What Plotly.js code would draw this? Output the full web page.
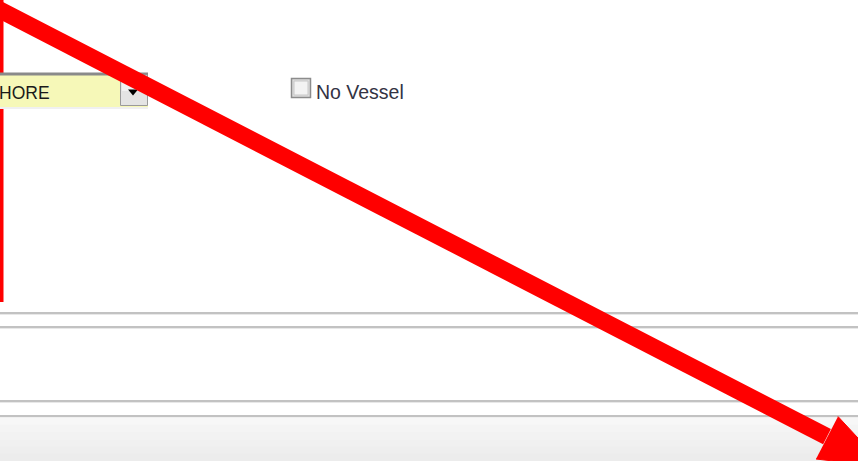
<!DOCTYPE html>
<html>
<head>
<meta charset="utf-8">
<script src="https://cdn.plot.ly/plotly-3.0.1.min.js"></script>
<style>
html,body{margin:0;padding:0;background:#fff;overflow:hidden;}
#chart{width:858px;height:461px;}
</style>
</head>
<body>
<div id="chart"></div>
<script>
// ---- values (pixel space of the screenshot) ----
const shaftX = [-10, 827];
const shaftY = [4.9, 436.6];
const headX = [838.0, 884.8, 816.0];
const headY = [416.5, 467.0, 459.0];
const dropdownText = "HORE";
const checkboxLabel = "No Vessel";
const separatorY = [313, 327, 401, 416];
const footerShades = ["#f7f7f7", "#f4f4f4", "#f2f2f2", "#f0f0f0", "#eeeeee", "#ececec"];

const W = 858, H = 461;
const shapes = [];

// red vertical marker at left edge
shapes.push({type:'rect', layer:'below', x0:0, x1:3.5, y0:0, y1:302, fillcolor:'#ff0000', line:{width:0}});

// dropdown
shapes.push({type:'rect', layer:'below', x0:-2, x1:148, y0:75, y1:107, fillcolor:'#f6f8b8', line:{width:0}});
shapes.push({type:'rect', layer:'below', x0:-2, x1:148, y0:72.5, y1:75.5, fillcolor:'#8a8a8a', line:{width:0}});
shapes.push({type:'rect', layer:'below', x0:-2, x1:148, y0:107, y1:109, fillcolor:'#f0f0f0', line:{width:0}});
shapes.push({type:'rect', layer:'below', x0:120.5, x1:147.5, y0:75, y1:105.5, fillcolor:'#e4e4e4', line:{color:'#9a9a9a', width:1}});
shapes.push({type:'rect', layer:'below', x0:122, x1:146, y0:76.5, y1:91, fillcolor:'#f2f2f2', line:{width:0}});
shapes.push({type:'path', layer:'below', path:'M 128 89.5 L 138 89.5 L 133 95.5 Z', fillcolor:'#000000', line:{width:0}});

// checkbox
shapes.push({type:'rect', layer:'below', x0:291.5, x1:310.5, y0:78.5, y1:97.5, fillcolor:'#dcdcdc', line:{color:'#8c8c8c', width:1.5}});
shapes.push({type:'rect', layer:'below', x0:294, x1:308, y0:81, y1:95, fillcolor:'#f3f3f3', line:{color:'#c8c8c8', width:1}});

// separators
separatorY.forEach(function(y){
  shapes.push({type:'line', layer:'below', x0:0, x1:W, y0:y, y1:y, line:{color:'#c2c2c2', width:2}});
  shapes.push({type:'line', layer:'below', x0:0, x1:W, y0:y+1.5, y1:y+1.5, line:{color:'#e8e8e8', width:1}});
});

// footer band gradient
const fTop = 417.5, fStep = (H - fTop) / footerShades.length;
footerShades.forEach(function(c, i){
  shapes.push({type:'rect', layer:'below', x0:0, x1:W, y0:fTop + i*fStep, y1:fTop + (i+1)*fStep + 0.5, fillcolor:c, line:{width:0}});
});

const traces = [
  {x: shaftX, y: shaftY, mode:'lines', line:{color:'#ff0000', width:17}, hoverinfo:'skip', showlegend:false},
  {x: headX, y: headY, mode:'lines', fill:'toself', fillcolor:'#ff0000', line:{color:'#ff0000', width:1}, hoverinfo:'skip', showlegend:false}
];

const annotations = [
  {x:0, y:93, xref:'x', yref:'y', xshift:-3, text:dropdownText, showarrow:false, xanchor:'left', yanchor:'middle',
   font:{family:'Liberation Sans, Arial, sans-serif', size:17.5, color:'#1a1a1a'}},
  {x:313.5, y:91.5, xref:'x', yref:'y', text:checkboxLabel, showarrow:false, xanchor:'left', yanchor:'middle',
   font:{family:'Liberation Sans, Arial, sans-serif', size:19.5, color:'#333344'}}
];

const layout = {
  width: W, height: H,
  margin:{l:0, r:0, t:0, b:0, pad:0},
  paper_bgcolor:'#ffffff', plot_bgcolor:'#ffffff',
  xaxis:{range:[0, W], visible:false, fixedrange:true},
  yaxis:{range:[H, 0], visible:false, fixedrange:true},
  shapes: shapes,
  annotations: annotations,
  showlegend:false
};

Plotly.newPlot('chart', traces, layout, {displayModeBar:false, staticPlot:true});
</script>
</body>
</html>
